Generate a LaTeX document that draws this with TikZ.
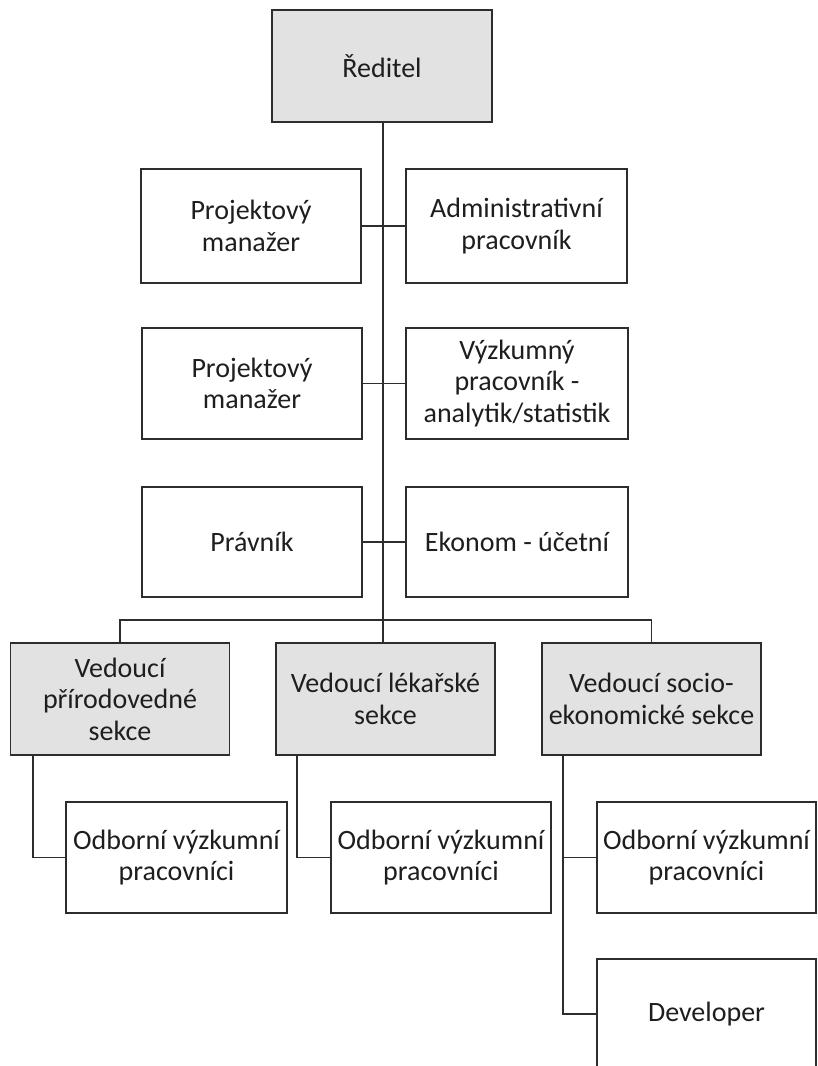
\documentclass[tikz,border=0pt]{standalone}
\usepackage{fontspec}
\setmainfont{Carlito}
\definecolor{boxfill}{RGB}{226,226,226}
\definecolor{linec}{RGB}{45,45,45}
\definecolor{txtc}{RGB}{30,30,30}
\begin{document}
\begin{tikzpicture}[x=1pt,y=-1pt,
  orgbox/.style={draw=linec, line width=1.8pt, fill=white, inner sep=0pt,
    minimum width=220pt, minimum height=112pt, align=center, text=txtc,
    font=\fontsize{28}{31.5}\selectfont},
  graybox/.style={orgbox, fill=boxfill},
  conn/.style={draw=linec, line width=1.8pt}]
\useasboundingbox (0,0) rectangle (817,1066);
\clip (0,0) rectangle (817,1066);
\fill[white] (0,0) rectangle (817,1066);
% top
\node[graybox] (dir) at (382,66) {Ředitel};
% row 1
\node[orgbox, minimum height=114pt] (pm1) at (251,226) {Projektový\\manažer};
\node[orgbox, minimum height=114pt, minimum width=221pt] (adm) at (516.5,226) {Administrativní\\pracovník};
% row 2
\node[orgbox, minimum height=111pt] (pm2) at (252,383.5) {Projektový\\manažer};
\node[orgbox, minimum height=111pt, minimum width=222pt] (vyz) at (517,383.5) {Výzkumný\\pracovník -\\analytik/statistik};
% row 3
\node[orgbox, minimum height=110pt] (prav) at (252,542) {Právník};
\node[orgbox, minimum height=110pt, minimum width=222pt] (eko) at (517,542) {Ekonom - účetní};
% row 4
\node[graybox, minimum width=219pt] (v1) at (120,699) {Vedoucí\\přírodovedné\\sekce};
\node[graybox, minimum width=219pt] (v2) at (385.5,699) {Vedoucí lékařské\\sekce};
\node[graybox, minimum width=219pt] (v3) at (651.5,699) {Vedoucí socio-\\ekonomické sekce};
% row 5
\node[orgbox, minimum width=221pt, minimum height=111pt] (o1) at (176.5,857.5) {Odborní výzkumní\\pracovníci};
\node[orgbox, minimum width=220pt, minimum height=111pt] (o2) at (441,857.5) {Odborní výzkumní\\pracovníci};
\node[orgbox, minimum width=219pt, minimum height=111pt] (o3) at (706.5,857.5) {Odborní výzkumní\\pracovníci};
\node[orgbox, minimum width=219pt, minimum height=110pt] (dev) at (706.5,1014) {Developer};
% connectors
\coordinate (bus) at (383,620);
\draw[conn] (dir.south -| bus) -- (v2.north -| bus);
\draw[conn] (pm1.east) -- (adm.west);
\draw[conn] (pm2.east) -- (vyz.west);
\draw[conn] (prav.east) -- (eko.west);
\draw[conn] (v1.north) |- (bus) -| (v3.north);
\draw[conn] ([xshift=23pt]v1.south west) |- (o1.west);
\draw[conn] ([xshift=22pt]v2.south west) |- (o2.west);
\draw[conn] ([xshift=22pt]v3.south west) |- (o3.west);
\draw[conn] ([xshift=22pt]v3.south west) |- (dev.west);
\end{tikzpicture}
\end{document}
